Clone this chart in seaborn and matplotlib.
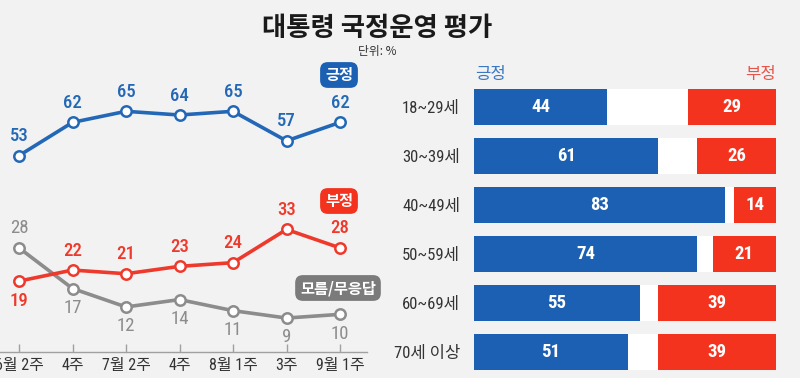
import matplotlib
matplotlib.use("Agg")
import matplotlib.pyplot as plt
import seaborn as sns
import pandas as pd
import numpy as np

# ---------------- data ----------------
weeks = ["6월 2주", "4주", "7월 2주", "4주", "8월 1주", "3주", "9월 1주"]
positive = [53, 62, 65, 64, 65, 57, 62]
negative = [19, 22, 21, 23, 24, 33, 28]
unknown = [28, 17, 12, 14, 11, 9, 10]

age_groups = ["18~29세", "30~39세", "40~49세", "50~59세", "60~69세", "70세 이상"]
age_positive = [44, 61, 83, 74, 55, 51]
age_negative = [29, 26, 14, 21, 39, 39]

# ---------------- style ----------------
BG = "#f2f2f2"
BLUE = "#1b60b3"
BLUE_LINE = "#2368b6"
RED = "#f4331f"
RED_LINE = "#ee3a2c"
GRAY_LINE = "#8c8c8c"
GRAY_BOX = "#7b7b7b"
TXT = "#333333"

sns.set_theme(style="white")
plt.rcParams['font.family'] = ['Noto Sans CJK KR', 'DejaVu Sans']
NUMFONT = ['Roboto Condensed', 'Liberation Sans Narrow', 'Liberation Sans', 'Noto Sans CJK KR']
MIXFONT = ['Roboto Condensed', 'Noto Sans CJK KR', 'DejaVu Sans']

W, H = 800, 378
fig = plt.figure(figsize=(W / 100, H / 100), dpi=100, facecolor=BG)

def fx(px):
    return px / W

def fy(py):
    return 1 - py / H

# ---------------- line chart ----------------
ax_w_px = 367
step = 53.5
x0 = 19
top_px, bot_px = 60, 352
ax = fig.add_axes([0, fy(bot_px), fx(ax_w_px), (bot_px - top_px) / H])
ax.set_facecolor(BG)

idx = np.arange(len(weeks))
df_line = pd.DataFrame({"x": idx, "pos": positive, "neg": negative, "unk": unknown})

for col, color in [("unk", GRAY_LINE), ("neg", RED_LINE), ("pos", BLUE_LINE)]:
    sns.lineplot(data=df_line, x="x", y=col, ax=ax, color=color, linewidth=2.6,
                 marker="o", markersize=7.5, markerfacecolor="white",
                 markeredgecolor=color, markeredgewidth=1.8, zorder=3, clip_on=False)

for i in idx:
    ax.annotate(str(positive[i]), (i, positive[i]), xytext=(0, 14), textcoords="offset points",
                ha="center", va="center", fontsize=13.5, fontweight="medium",
                color=BLUE_LINE, family=NUMFONT)
    neg_above = negative[i] >= unknown[i]
    ax.annotate(str(negative[i]), (i, negative[i]), xytext=(0, 14 if neg_above else -14),
                textcoords="offset points", ha="center", va="center", fontsize=13.5,
                fontweight="medium", color=RED_LINE, family=NUMFONT)
    unk_above = unknown[i] > negative[i]
    ax.annotate(str(unknown[i]), (i, unknown[i]), xytext=(0, 14 if unk_above else -14),
                textcoords="offset points", ha="center", va="center", fontsize=13.5,
                color=GRAY_LINE, family=NUMFONT)

ax.set_xlim(-x0 / step, (ax_w_px - x0) / step)
ax.set_ylim(-0.2, 78.9)
ax.set_xticks(idx)
ax.set_xticklabels(weeks, fontsize=11.5, color=TXT, family=MIXFONT)
ax.set_yticks([])
ax.set_xlabel("")
ax.set_ylabel("")
for s in ["top", "right", "left"]:
    ax.spines[s].set_visible(False)
ax.spines["bottom"].set_color("#a0a0a0")
ax.spines["bottom"].set_linewidth(1.0)
ax.tick_params(axis="x", direction="in", length=5.5, width=1, color="#a0a0a0", pad=4)
ax.tick_params(axis="x", bottom=True)

# legend badges
badge = dict(boxstyle="round,pad=0.32,rounding_size=0.5")
fig.text(fx(339), fy(75), "긍정", ha="center", va="center", fontsize=11, fontweight="bold",
         color="white", bbox=dict(facecolor=BLUE, edgecolor="none", **badge))
fig.text(fx(339), fy(201), "부정", ha="center", va="center", fontsize=11, fontweight="bold",
         color="white", bbox=dict(facecolor=RED, edgecolor="none", **badge))
fig.text(fx(338), fy(288), "모름/무응답", ha="center", va="center", fontsize=11, fontweight="bold",
         color="white", bbox=dict(facecolor=GRAY_BOX, edgecolor="none", **badge))

# ---------------- bar chart ----------------
bx0, bx1 = 474, 776
row0, row_step = 107, 49
btop = row0 - row_step / 2
bbot = row0 + row_step * (len(age_groups) - 0.5)
axb = fig.add_axes([fx(bx0), fy(bbot), fx(bx1 - bx0), (bbot - btop) / H])
axb.set_facecolor(BG)

df_bar = pd.DataFrame({
    "age": age_groups,
    "pos": age_positive,
    "neg": age_negative,
})
df_bar["total"] = 100
df_bar["rest"] = 100 - df_bar["neg"]

bw = 36 / row_step
sns.barplot(data=df_bar, y="age", x="total", ax=axb, color=RED, orient="h",
            width=bw, saturation=1, edgecolor="none")
sns.barplot(data=df_bar, y="age", x="rest", ax=axb, color="white", orient="h",
            width=bw, saturation=1, edgecolor="none")
sns.barplot(data=df_bar, y="age", x="pos", ax=axb, color=BLUE, orient="h",
            width=bw, saturation=1, edgecolor="none")

for i, (p, n) in enumerate(zip(age_positive, age_negative)):
    axb.text(p / 2, i, str(p), ha="center", va="center", color="white", fontsize=13.5,
             fontweight="bold", family=NUMFONT)
    axb.text(100 - n / 2, i, str(n), ha="center", va="center", color="white", fontsize=13.5,
             fontweight="bold", family=NUMFONT)

axb.set_xlim(0, 100)
axb.set_ylim(len(age_groups) - 0.5, -0.5)
axb.set_xticks([])
axb.set_xlabel("")
axb.set_ylabel("")
axb.tick_params(axis="y", length=0, pad=10, labelsize=12, labelcolor=TXT)
for lab in axb.get_yticklabels():
    lab.set_family(MIXFONT)
for s in axb.spines.values():
    s.set_visible(False)

fig.text(fx(475), fy(75), "긍정", ha="left", va="center", fontsize=12, color="#3a78c2")
fig.text(fx(776), fy(75), "부정", ha="right", va="center", fontsize=12, color="#e8544a")

# ---------------- titles ----------------
fig.text(fx(377), fy(29), "대통령 국정운영 평가", ha="center", va="center", fontsize=19,
         fontweight="heavy", color="#1a1a1a")
fig.text(fx(377), fy(52), "단위: %", ha="center", va="center", fontsize=8.5, color="#333333")

fig.savefig("out.png", dpi=100, facecolor=BG)
